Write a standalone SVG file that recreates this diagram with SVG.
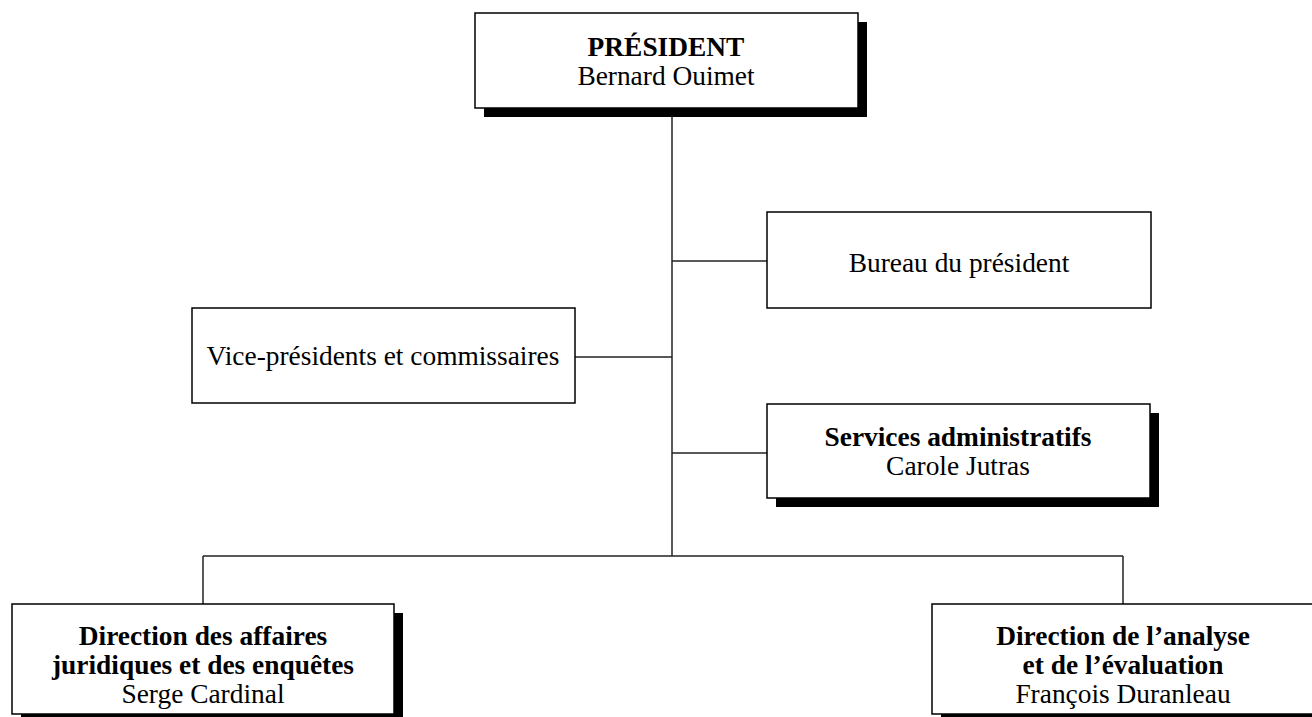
<svg xmlns="http://www.w3.org/2000/svg" width="1312" height="717" viewBox="0 0 1312 717">
<style>
.box{fill:#fff;stroke:#000;stroke-width:1.5}
.sh{fill:#000}
.t{font-family:"Liberation Serif","Times New Roman",serif;font-size:27.4px;fill:#000;text-anchor:middle}
.b{font-weight:bold}
.c{stroke:#222;stroke-width:1.5;fill:none}
</style>
<rect width="1312" height="717" fill="#fff"/>
<g id="connectors">
<line class="c" x1="672" y1="108" x2="672" y2="556"/>
<line class="c" x1="672" y1="261" x2="767" y2="261"/>
<line class="c" x1="575" y1="357" x2="672" y2="357"/>
<line class="c" x1="672" y1="453" x2="767" y2="453"/>
<line class="c" x1="203" y1="556" x2="1123" y2="556"/>
<line class="c" x1="203" y1="556" x2="203" y2="604"/>
<line class="c" x1="1123" y1="556" x2="1123" y2="604"/>
</g>
<g id="president">
<rect class="sh" x="484" y="22" width="383" height="95"/>
<rect class="box" x="475" y="13" width="383" height="95"/>
<text class="t b" x="666" y="56">PRÉSIDENT</text>
<text class="t" x="666" y="85">Bernard Ouimet</text>
</g>
<g id="bureau">
<rect class="box" x="767" y="212" width="384" height="96"/>
<text class="t" x="959" y="272">Bureau du président</text>
</g>
<g id="vice">
<rect class="box" x="192" y="308" width="383" height="95"/>
<text class="t" x="383" y="365">Vice-présidents et commissaires</text>
</g>
<g id="services">
<rect class="sh" x="776" y="413" width="383" height="94"/>
<rect class="box" x="767" y="404" width="383" height="94"/>
<text class="t b" x="958" y="446">Services administratifs</text>
<text class="t" x="958" y="475">Carole Jutras</text>
</g>
<g id="direction-juridique">
<rect class="sh" x="21" y="613" width="382" height="110"/>
<rect class="box" x="12" y="604" width="382" height="110"/>
<text class="t b" x="203" y="645">Direction des affaires</text>
<text class="t b" x="203" y="674">juridiques et des enquêtes</text>
<text class="t" x="203" y="703">Serge Cardinal</text>
</g>
<g id="direction-analyse">
<rect class="sh" x="941" y="613" width="383" height="110"/>
<rect class="box" x="932" y="604" width="383" height="110"/>
<text class="t b" x="1123" y="645">Direction de l’analyse</text>
<text class="t b" x="1123" y="674">et de l’évaluation</text>
<text class="t" x="1123" y="703">François Duranleau</text>
</g>
</svg>
